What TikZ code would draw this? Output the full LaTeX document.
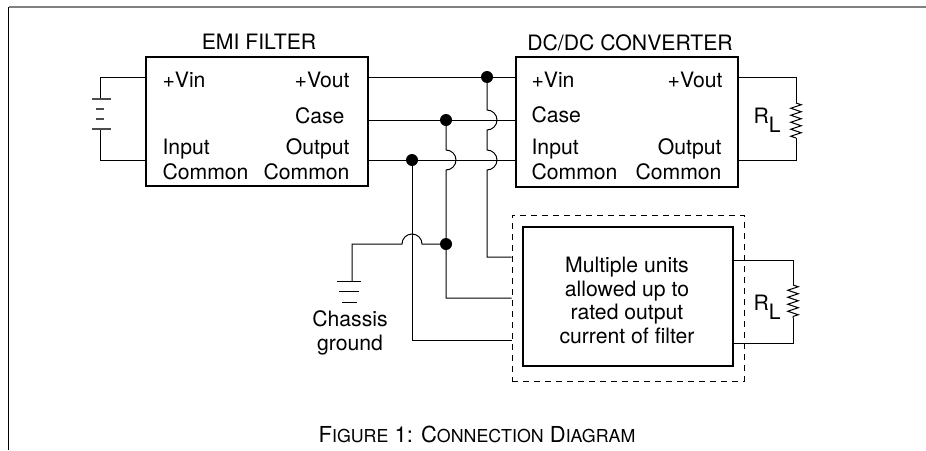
\documentclass[tikz,border=0pt]{standalone}
\usepackage{fontspec}
\setmainfont{TeX Gyre Heros}
\usetikzlibrary{calc, decorations.pathmorphing}

\newcommand\capsm[1]{{\fontsize{8.9}{10}\selectfont #1}}
\tikzset{
 box/.style = {draw, line width=0.7pt, inner sep=0pt},
 lbl/.style = {inner sep=0pt, font=\fontsize{10.6}{11.7}\selectfont},
 dot/.style = {circle, fill, inner sep=0pt, minimum size=6pt},
 res/.style = {decorate, decoration={zigzag, segment length=3.5pt, amplitude=2.6pt}},
}

\begin{document}
\begin{tikzpicture}[x=0.5pt, y=-0.5pt, line width=0.5pt]
 \useasboundingbox (0,0) rectangle (926,450);
 \draw[gray, line width=1.2pt] (926,7) -- (8.5,7) coordinate (TL);
 \draw (TL) -- (8.5,450);
 % blocks
 \node[box, minimum width=111pt, minimum height=64.5pt] (emi) at (257,121.5) {};
 \node[box, minimum width=111pt, minimum height=65pt] (dcdc) at (627,122) {};
 \node[box, line width=0.5pt, dash pattern=on 3pt off 2.5pt, minimum width=116pt, minimum height=83pt] (grp) at (628,298) {};
 \node[box, minimum width=105pt, minimum height=69.5pt] (multi) at (628,296.5) {};
 \node[lbl, anchor=base] (emit) at (259,49) {EMI FILTER};
 \node[lbl, anchor=base] (dct) at (630,50) {DC/DC CONVERTER};
 \node[lbl, align=center] (mtxt) at (627,300.5) {Multiple units\\allowed up to\\rated output\\current of filter};
 \node[lbl, anchor=base west] (evin) at (162,87) {+Vin};
 \node[lbl, anchor=base east] (evout) at (350,87) {+Vout};
 \node[lbl, anchor=base east] (ecase) at (345,123) {Case};
 \node[lbl, anchor=base west] (ein) at (162,154) {Input};
 \node[lbl, anchor=base west] (ecom) at (162,179) {Common};
 \node[lbl, anchor=base east] (eout) at (350,154) {Output};
 \node[lbl, anchor=base east] (eocom) at (350,179) {Common};
 \node[lbl, anchor=base west] (dvin) at (531,87) {+Vin};
 \node[lbl, anchor=base east] (dvout) at (723,87) {+Vout};
 \node[lbl, anchor=base west] (dcase) at (531,122) {Case};
 \node[lbl, anchor=base west] (din) at (531,154) {Input};
 \node[lbl, anchor=base west] (dcom) at (531,179) {Common};
 \node[lbl, anchor=base east] (dout) at (722,154) {Output};
 \node[lbl, anchor=base east] (docom) at (722,179) {Common};
 % bus lines
 \coordinate (jv) at (487,77);
 \coordinate (jc) at (446,120);
 \coordinate (jo) at (412,160);
 \coordinate (jg) at (446,244);
 \draw (emi.east |- jv) -- (dcdc.west |- jv);
 \draw (emi.east |- jc) -- (dcdc.west |- jc);
 \draw (emi.east |- jo) -- (dcdc.west |- jo);
 % battery
 \coordinate (batp) at (100,99);
 \coordinate (batn) at (100,129);
 \draw (emi.west |- jv) -| (batp);
 \draw (batn) |- (emi.west |- jo);
 \draw[line width=1pt, gray!60!black] (92,99) -- (111,99) (96,109) -- (104,109)
 (96,119) -- (104,119) (92,129) -- (111,129);
 % feeds to the other units
 \coordinate (kv) at (487,257);
 \coordinate (kc) at (446,298);
 \coordinate (ko) at (412,340);
 \draw (jv) -- (487,110) arc[start angle=-90, end angle=90, radius=10]
 -- (487,150) arc[start angle=-90, end angle=90, radius=10] -- (kv) -- (kv -| grp.west);
 \draw (jc) -- (446,150) arc[start angle=-90, end angle=90, radius=10] -- (kc) -- (kc -| grp.west);
 \draw (jo) -- (ko) -- (ko -| grp.west);
 % chassis ground
 \coordinate (gnd) at (352,281);
 \draw (jg) -- (422,244) arc[start angle=0, end angle=-180, radius=10] -| (gnd);
 \draw (337,281) -- (361,281) (339,291) -- (359,291) (342,302) -- (357,302);
 \node[lbl, align=center] (gtxt) at (350,333) {Chassis\\ground};
 \foreach \j in {jv, jc, jo, jg} \node[dot] at (\j) {};
 % loads
 \coordinate (r1t) at (796,103);
 \coordinate (r1b) at (796,138);
 \draw (dcdc.east |- jv) -| (r1t);
 \draw[res] (r1t) -- (r1b);
 \draw (r1b) |- (dcdc.east |- jo);
 \node[lbl, anchor=base west] (rl1) at (753,123) {R\raisebox{-4.5pt}{L}};
 \coordinate (mvo) at (733,260);
 \coordinate (mco) at (733,343);
 \coordinate (r2t) at (793,285);
 \coordinate (r2b) at (793,318);
 \draw (mvo) -| (r2t);
 \draw[res] (r2t) -- (r2b);
 \draw (r2b) |- (mco);
 \node[lbl, anchor=base west] (rl2) at (753,310) {R\raisebox{-4.5pt}{L}};
 \node[lbl, font=\fontsize{11}{12}\selectfont, anchor=base] (cap) at (477,442) {F\capsm{IGURE} 1: C\capsm{ONNECTION} D\capsm{IAGRAM}};
\end{tikzpicture}
\end{document}
